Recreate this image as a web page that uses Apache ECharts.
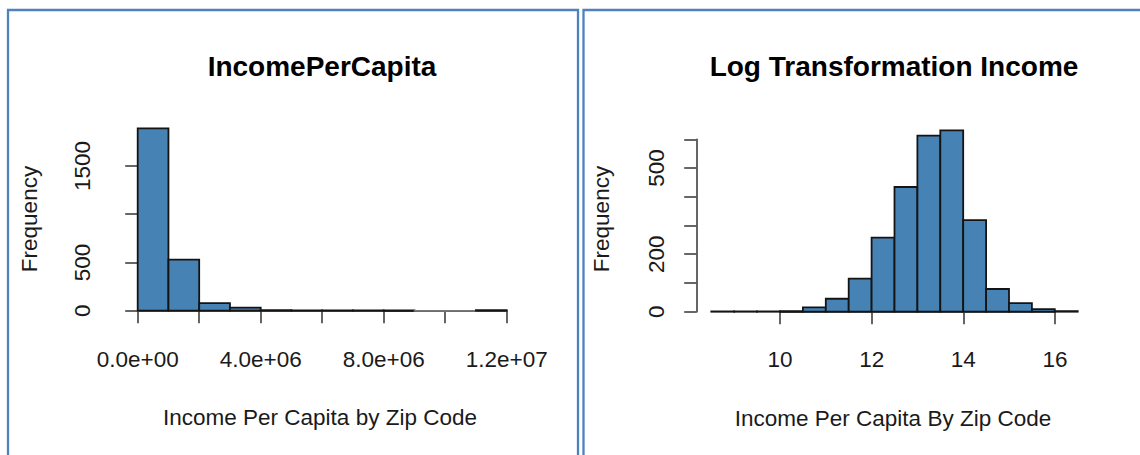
<!DOCTYPE html>
<html>
<head>
<meta charset="utf-8">
<script src="https://cdn.jsdelivr.net/npm/echarts@6/dist/echarts.min.js"></script>
<style>
html,body{margin:0;padding:0;background:#fff;}
#c{width:1140px;height:455px;}
</style>
</head>
<body>
<div id="c"></div>
<script>
// ---- Data: left histogram (Income per capita, bins of 1e6) ----
var leftBinStarts = [0,1e6,2e6,3e6,4e6,5e6,6e6,7e6,8e6,9e6,10e6,11e6];
var leftBinWidth = 1e6;
var leftCounts = [1891,529,79,31,5,4,3,3,2,0,0,6];
var leftXTickLabels = ['0.0e+00','','4.0e+06','','8.0e+06','','1.2e+07'];
var leftYTickLabels = ['0','500','','1500'];

// ---- Data: right histogram (log income, bins of 0.5) ----
var rightBinStarts = [8.5,9,9.5,10,10.5,11,11.5,12,12.5,13,13.5,14,14.5,15,15.5,16];
var rightBinWidth = 0.5;
var rightCounts = [1,1,1,2,15,45,115,258,434,613,631,319,79,30,9,2];
var rightXTickLabels = ['10','12','14','16'];
var rightYTickLabels = ['0','','200','','','500',''];

var titles = ['IncomePerCapita','Log Transformation Income'];
var xTitles = ['Income Per Capita by Zip Code','Income Per Capita By Zip Code'];
var yTitle = 'Frequency';

function bins(starts, w, counts){
  return starts.map(function(s,i){ return [s, s+w, counts[i]]; });
}

var FONT = 'Liberation Sans, Arial, sans-serif';
var TXT = '#1a1a1a';
var AX = '#555';
var FILL = '#4682B4';

function renderHist(params, api){
  var p0 = api.coord([api.value(0), api.value(2)]);
  var p1 = api.coord([api.value(1), 0]);
  var cnt = api.value(2);
  return {
    type:'rect',
    shape:{x:p0[0], y:p0[1], width:p1[0]-p0[0], height:Math.max(p1[1]-p0[1],0.3)},
    style:{fill:FILL, stroke: cnt > 0 ? '#141414' : '#777', lineWidth: cnt > 0 ? 1.8 : 1.3}
  };
}

var axisLabelStyle = {fontSize:22.5, fontFamily:FONT, color:TXT, margin:29};
var axisLineStyle = {lineStyle:{color:AX, width:1.8}};
var axisTickStyle = {length:12.5, lineStyle:{color:AX, width:1.8}};

var chart = echarts.init(document.getElementById('c'), null, {renderer:'svg'});
chart.setOption({
  animation:false,
  backgroundColor:'#fff',
  grid:[
    {left:137.7, right:633.3, top:166, bottom:144.3},
    {left:711.3, right:62.3, top:139.3, bottom:143.3},
    {left:780, right:85, top:139.3, bottom:143.3}
  ],
  xAxis:[
    {gridIndex:0, type:'value', min:0, max:12e6, interval:2e6, offset:8.6,
     axisLine:axisLineStyle, axisTick:axisTickStyle, splitLine:{show:false},
     axisLabel:Object.assign({}, axisLabelStyle, {formatter:function(v,i){return leftXTickLabels[i]||'';}})},
    {gridIndex:1, type:'value', min:8.5, max:16.5, show:false},
    {gridIndex:2, type:'value', min:10, max:16, interval:2, offset:7.6,
     axisLine:axisLineStyle, axisTick:axisTickStyle, splitLine:{show:false},
     axisLabel:Object.assign({}, axisLabelStyle, {formatter:function(v,i){return rightXTickLabels[i]||'';}})}
  ],
  yAxis:[
    {gridIndex:0, type:'value', min:0, max:1500, interval:500, offset:14.4,
     axisLine:Object.assign({show:true}, axisLineStyle), axisTick:Object.assign({show:true}, axisTickStyle), splitLine:{show:false},
     axisLabel:Object.assign({}, axisLabelStyle, {rotate:90, formatter:function(v,i){return leftYTickLabels[i]||'';}})},
    {gridIndex:1, type:'value', min:0, max:600, interval:100, offset:14.6,
     axisLine:Object.assign({show:true}, axisLineStyle), axisTick:Object.assign({show:true}, axisTickStyle), splitLine:{show:false},
     axisLabel:Object.assign({}, axisLabelStyle, {rotate:90, formatter:function(v,i){return rightYTickLabels[i]||'';}})},
    {gridIndex:2, type:'value', min:0, max:600, show:false}
  ],
  series:[
    {type:'custom', xAxisIndex:0, yAxisIndex:0, clip:false, renderItem:renderHist,
     encode:{x:[0,1], y:2}, data:bins(leftBinStarts, leftBinWidth, leftCounts)},
    {type:'custom', xAxisIndex:1, yAxisIndex:1, clip:false, renderItem:renderHist,
     encode:{x:[0,1], y:2}, data:bins(rightBinStarts, rightBinWidth, rightCounts)}
  ],
  graphic:[
    {type:'rect', shape:{x:8, y:10, width:570, height:470}, style:{fill:null, stroke:'#4f81bd', lineWidth:2.3}, silent:true},
    {type:'rect', shape:{x:583.5, y:10, width:620, height:470}, style:{fill:null, stroke:'#4f81bd', lineWidth:2.3}, silent:true},
    {type:'text', x:322, y:66, style:{text:titles[0], font:'bold 28px '+FONT, fill:'#000', textAlign:'center', textVerticalAlign:'middle'}},
    {type:'text', x:894, y:66, style:{text:titles[1], font:'bold 28px '+FONT, fill:'#000', textAlign:'center', textVerticalAlign:'middle'}},
    {type:'text', x:320, y:417, style:{text:xTitles[0], font:'22.5px '+FONT, fill:TXT, textAlign:'center', textVerticalAlign:'middle'}},
    {type:'text', x:893, y:418, style:{text:xTitles[1], font:'22.5px '+FONT, fill:TXT, textAlign:'center', textVerticalAlign:'middle'}},
    {type:'text', x:29, y:219, rotation:Math.PI/2, style:{text:yTitle, font:'22.5px '+FONT, fill:TXT, textAlign:'center', textVerticalAlign:'middle'}},
    {type:'text', x:601, y:219, rotation:Math.PI/2, style:{text:yTitle, font:'22.5px '+FONT, fill:TXT, textAlign:'center', textVerticalAlign:'middle'}}
  ]
});
</script>
</body>
</html>
